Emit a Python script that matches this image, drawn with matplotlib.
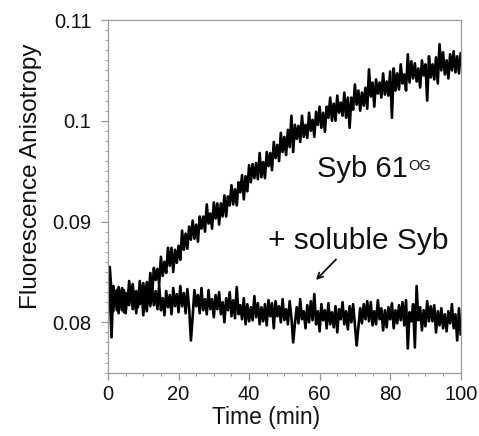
import numpy as np
import matplotlib
matplotlib.use("Agg")
import matplotlib.pyplot as plt
from matplotlib.ticker import MultipleLocator

plt.rcParams['font.family'] = ['Liberation Sans', 'DejaVu Sans']

# Time axis (min), 0.5-min sampling
time_min = np.linspace(0, 100, 201)

# Syb 61(OG) trace (fluorescence anisotropy)
syb61 = [
    0.0833, 0.0855, 0.0829, 0.0811, 0.0831, 0.0812, 0.0835, 0.0821, 0.0834, 0.0810,
    0.0829, 0.0818, 0.0841, 0.0821, 0.0838, 0.0819, 0.0831, 0.0815, 0.0841, 0.0824,
    0.0839, 0.0823, 0.0840, 0.0824, 0.0849, 0.0826, 0.0854, 0.0842, 0.0853, 0.0838,
    0.0865, 0.0846, 0.0860, 0.0849, 0.0874, 0.0856, 0.0874, 0.0850, 0.0872, 0.0859,
    0.0876, 0.0862, 0.0891, 0.0872, 0.0888, 0.0873, 0.0895, 0.0882, 0.0901, 0.0883,
    0.0897, 0.0880, 0.0905, 0.0893, 0.0905, 0.0890, 0.0917, 0.0898, 0.0908, 0.0893,
    0.0919, 0.0903, 0.0918, 0.0897, 0.0918, 0.0905, 0.0926, 0.0905, 0.0925, 0.0916,
    0.0936, 0.0917, 0.0932, 0.0916, 0.0939, 0.0929, 0.0946, 0.0922, 0.0945, 0.0930,
    0.0956, 0.0939, 0.0957, 0.0943, 0.0958, 0.0942, 0.0968, 0.0944, 0.0959, 0.0943,
    0.0969, 0.0955, 0.0968, 0.0951, 0.0979, 0.0963, 0.0976, 0.0960, 0.0988, 0.0969,
    0.0984, 0.0966, 0.0991, 0.0974, 0.1005, 0.0969, 0.0996, 0.0982, 0.0995, 0.0979,
    0.1005, 0.0984, 0.0996, 0.0983, 0.1008, 0.0990, 0.1001, 0.0984, 0.1009, 0.0996,
    0.1014, 0.0993, 0.1008, 0.0989, 0.1014, 0.1003, 0.1023, 0.1000, 0.1017, 0.1000,
    0.1025, 0.1008, 0.1018, 0.1005, 0.1028, 0.1003, 0.1023, 0.0993, 0.1023, 0.1011,
    0.1036, 0.1016, 0.1030, 0.1010, 0.1028, 0.1015, 0.1033, 0.1012, 0.1051, 0.1024,
    0.1038, 0.1014, 0.1041, 0.1027, 0.1038, 0.1023, 0.1047, 0.1026, 0.1039, 0.1025,
    0.1049, 0.1003, 0.1052, 0.1030, 0.1047, 0.1031, 0.1056, 0.1037, 0.1046, 0.1030,
    0.1066, 0.1038, 0.1059, 0.1042, 0.1057, 0.1039, 0.1052, 0.1033, 0.1060, 0.1045,
    0.1056, 0.1020, 0.1064, 0.1043, 0.1056, 0.1041, 0.1063, 0.1037, 0.1076, 0.1050,
    0.1068, 0.1046, 0.1060, 0.1042, 0.1066, 0.1050, 0.1069, 0.1048, 0.1064, 0.1047,
    0.1067,
]

# Syb 61(OG) + soluble Syb trace
soluble = [
    0.0838, 0.0828, 0.0785, 0.0836, 0.0818, 0.0832, 0.0809, 0.0827, 0.0812, 0.0832,
    0.0809, 0.0827, 0.0817, 0.0835, 0.0813, 0.0826, 0.0809, 0.0830, 0.0818, 0.0833,
    0.0807, 0.0828, 0.0811, 0.0835, 0.0816, 0.0833, 0.0817, 0.0831, 0.0813, 0.0837,
    0.0812, 0.0824, 0.0807, 0.0831, 0.0815, 0.0827, 0.0808, 0.0834, 0.0816, 0.0828,
    0.0810, 0.0836, 0.0816, 0.0829, 0.0809, 0.0833, 0.0814, 0.0782, 0.0806, 0.0832,
    0.0816, 0.0827, 0.0809, 0.0834, 0.0812, 0.0823, 0.0808, 0.0832, 0.0813, 0.0823,
    0.0805, 0.0827, 0.0813, 0.0830, 0.0808, 0.0820, 0.0800, 0.0824, 0.0812, 0.0830,
    0.0806, 0.0822, 0.0804, 0.0835, 0.0808, 0.0817, 0.0803, 0.0824, 0.0798, 0.0818,
    0.0801, 0.0815, 0.0802, 0.0826, 0.0805, 0.0819, 0.0798, 0.0815, 0.0801, 0.0818,
    0.0797, 0.0822, 0.0806, 0.0819, 0.0794, 0.0821, 0.0806, 0.0816, 0.0800, 0.0823,
    0.0802, 0.0813, 0.0798, 0.0821, 0.0805, 0.0780, 0.0799, 0.0815, 0.0799, 0.0823,
    0.0803, 0.0811, 0.0794, 0.0817, 0.0800, 0.0821, 0.0802, 0.0828, 0.0798, 0.0811,
    0.0791, 0.0818, 0.0802, 0.0812, 0.0794, 0.0819, 0.0798, 0.0810, 0.0795, 0.0816,
    0.0790, 0.0813, 0.0803, 0.0820, 0.0798, 0.0811, 0.0793, 0.0816, 0.0800, 0.0818,
    0.0797, 0.0777, 0.0795, 0.0814, 0.0799, 0.0818, 0.0803, 0.0821, 0.0801, 0.0820,
    0.0797, 0.0811, 0.0798, 0.0822, 0.0803, 0.0814, 0.0792, 0.0812, 0.0795, 0.0815,
    0.0803, 0.0819, 0.0794, 0.0812, 0.0799, 0.0817, 0.0802, 0.0820, 0.0797, 0.0822,
    0.0774, 0.0810, 0.0801, 0.0818, 0.0775, 0.0836, 0.0802, 0.0815, 0.0792, 0.0812,
    0.0796, 0.0821, 0.0801, 0.0816, 0.0801, 0.0817, 0.0790, 0.0811, 0.0797, 0.0814,
    0.0794, 0.0808, 0.0791, 0.0811, 0.0799, 0.0818, 0.0794, 0.0808, 0.0782, 0.0814,
    0.0788,
]

y_ticks = [0.08, 0.09, 0.10, 0.11]
y_tick_labels = ["0.08", "0.09", "0.1", "0.11"]
x_ticks = [0, 20, 40, 60, 80, 100]

fig = plt.figure(figsize=(4.79, 4.36), dpi=100)
ax = fig.add_axes([0.2255, 0.1452, 0.9618 - 0.2255, 0.9541 - 0.1452])

ax.plot(time_min, syb61, color='black', lw=1.9)
ax.plot(time_min, soluble, color='black', lw=1.9)

ax.set_xlim(0, 100)
ax.set_ylim(0.075, 0.11)
ax.set_xticks(x_ticks)
ax.set_yticks(y_ticks)
ax.set_yticklabels(y_tick_labels)
ax.xaxis.set_minor_locator(MultipleLocator(5))
ax.yaxis.set_minor_locator(MultipleLocator(0.001))

spine_col = '#9a9a9a'
for s in ax.spines.values():
    s.set_color(spine_col)
    s.set_linewidth(0.9)
ax.tick_params(which='major', direction='out', length=5, width=0.9, color=spine_col,
               labelsize=14.5, labelcolor='#111111', pad=4)
ax.tick_params(axis='y', which='major', pad=7)
ax.tick_params(which='minor', direction='out', length=2.5, width=0.7, color=spine_col)

ax.set_xlabel("Time (min)", fontsize=16.5, color='#111111')
ax.set_ylabel("Fluorescence Anisotropy", fontsize=17.5, color='#111111')
ax.xaxis.set_label_coords(0.448, -0.094)
ax.yaxis.set_label_coords(-0.187, 0.558)

ax.text(59.3, 0.0944, "Syb 61", fontsize=21, color='#111111', ha='left', va='baseline')
ax.text(85.2, 0.0962, "OG", fontsize=10.5, color='#111111', ha='left', va='top')
ax.text(45.4, 0.0873, "+ soluble Syb", fontsize=21.5, color='#111111', ha='left', va='baseline')
ax.annotate("", xy=(58.4, 0.0840), xytext=(65.2, 0.08644),
            arrowprops=dict(arrowstyle='->', color='#111111', lw=1.3))

fig.savefig("out.png", dpi=100)
